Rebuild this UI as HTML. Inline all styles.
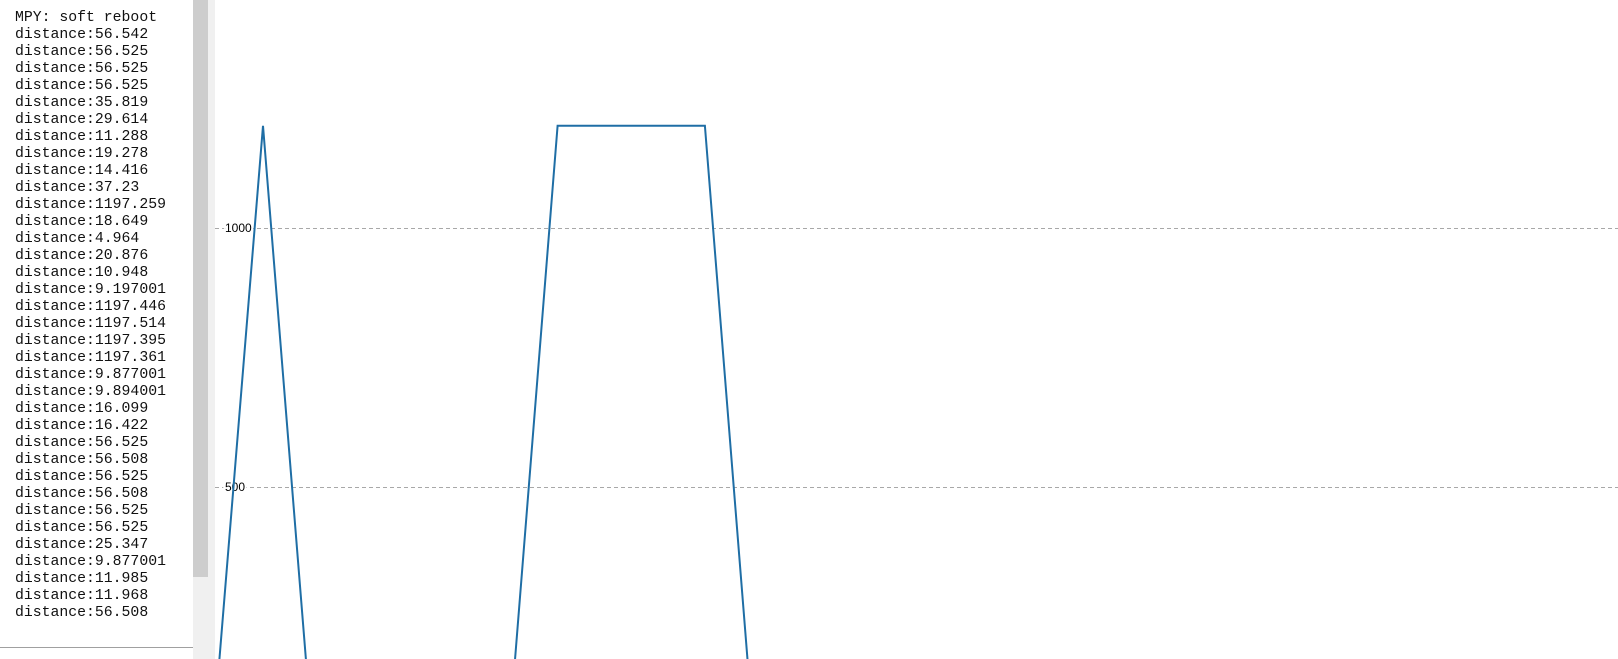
<!DOCTYPE html>
<html><head><meta charset="utf-8"><style>
html,body{margin:0;width:1618px;height:659px;overflow:hidden;background:#fff;position:relative;font-family:"Liberation Sans",sans-serif}
#log{position:absolute;left:0;top:0;width:193px;height:647px;border-bottom:1px solid #a0a0a0;background:#fff;overflow:hidden}
#log pre{margin:0;position:absolute;left:15px;top:10px;font-family:"Liberation Mono",monospace;font-size:14.8px;line-height:17px;color:#111}
#track{position:absolute;left:193px;top:0;width:22px;height:659px;background:#f0f0f0}
#thumb{position:absolute;left:193px;top:0;width:15px;height:577px;background:#cdcdcd}
svg{position:absolute;left:0;top:0;display:block}
</style></head><body>
<div id="log"><pre>MPY: soft reboot
distance:56.542
distance:56.525
distance:56.525
distance:56.525
distance:35.819
distance:29.614
distance:11.288
distance:19.278
distance:14.416
distance:37.23
distance:1197.259
distance:18.649
distance:4.964
distance:20.876
distance:10.948
distance:9.197001
distance:1197.446
distance:1197.514
distance:1197.395
distance:1197.361
distance:9.877001
distance:9.894001
distance:16.099
distance:16.422
distance:56.525
distance:56.508
distance:56.525
distance:56.508
distance:56.525
distance:56.525
distance:25.347
distance:9.877001
distance:11.985
distance:11.968
distance:56.508</pre></div>
<div id="track"></div>
<div id="thumb"></div>
<svg id="plot" width="1618" height="659"></svg>
<script>
const values=[56.542,56.525,56.525,56.525,35.819,29.614,11.288,19.278,14.416,37.23,1197.259,18.649,4.964,20.876,10.948,9.197001,1197.446,1197.514,1197.395,1197.361,9.877001,9.894001,16.099,16.422,56.525,56.508,56.525,56.508,56.525,56.525,25.347,9.877001,11.985,11.968,56.508];
const yTicks=[500,1000];
const NS='http://www.w3.org/2000/svg';
const svg=document.getElementById('plot');
const y=v=>746-v*0.518;
const x=i=>263+(i-10)*49.1;
const clip=document.createElementNS(NS,'clipPath');clip.setAttribute('id','c');
const cr=document.createElementNS(NS,'rect');cr.setAttribute('x',215);cr.setAttribute('y',0);cr.setAttribute('width',1403);cr.setAttribute('height',659);
clip.appendChild(cr);svg.appendChild(clip);
yTicks.forEach(t=>{
 const l=document.createElementNS(NS,'line');
 
 
 l.setAttribute('x1',215);l.setAttribute('x2',1618);l.setAttribute('y1',y(t)+0.5);l.setAttribute('y2',y(t)+0.5);
 l.setAttribute('stroke','#a8a8a8');l.setAttribute('stroke-dasharray','4,3');
 svg.appendChild(l);
 const tx=document.createElementNS(NS,'text');
 
 
 tx.setAttribute('x',225);tx.setAttribute('y',y(t)+4);tx.setAttribute('font-size','12');
 tx.setAttribute('font-family','Liberation Sans, sans-serif');
 tx.setAttribute('style','paint-order:stroke');tx.setAttribute('stroke','#fff');tx.setAttribute('stroke-width','4');
 tx.textContent=t;svg.appendChild(tx);
});
const p=document.createElementNS(NS,'polyline');


p.setAttribute('points',values.map((v,i)=>x(i).toFixed(1)+','+y(v).toFixed(1)).join(' '));
p.setAttribute('fill','none');p.setAttribute('stroke','#1f6ea5');p.setAttribute('stroke-width','2');
p.setAttribute('clip-path','url(#c)');
svg.appendChild(p);
</script>
</body></html>
